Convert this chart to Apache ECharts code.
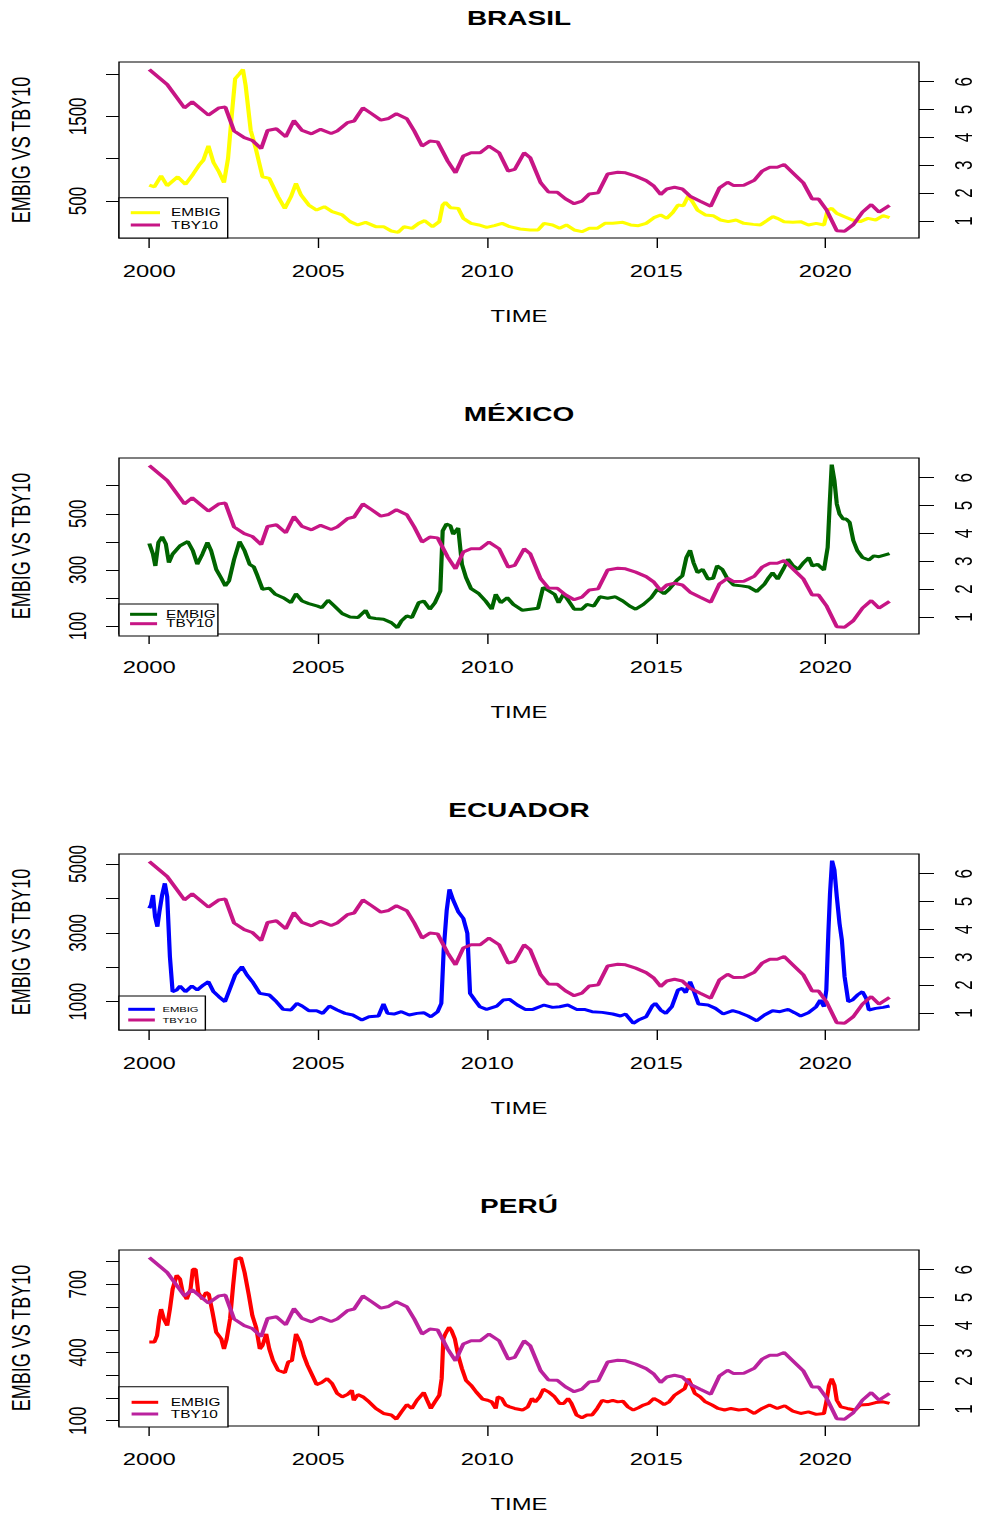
<!DOCTYPE html>
<html>
<head>
<meta charset="utf-8">
<script src="https://cdn.jsdelivr.net/npm/echarts@6/dist/echarts.min.js"></script>
<style>
  html, body { margin: 0; padding: 0; background: #fff; overflow: hidden; }
  #chart { transform-origin: 0 0; }
</style>
</head>
<body>
<div id="chart"></div>
<script>
// ---- data: [decimal year, value] ----
const yearTicks = [2000, 2005, 2010, 2015, 2020];
const tbyTicks = [1, 2, 3, 4, 5, 6];

// US 10-year Treasury yield (%), shared by every panel
const tby10 = [[2000.00,6.44],[2000.53,5.90],[2001.04,5.06],[2001.27,5.28],[2001.75,4.80],[2002.06,5.06],[2002.25,5.09],[2002.51,4.23],[2002.81,3.99],[2003.05,3.89],[2003.31,3.60],[2003.50,4.25],[2003.76,4.31],[2004.04,4.02],[2004.28,4.61],[2004.52,4.25],[2004.80,4.13],[2005.07,4.29],[2005.38,4.14],[2005.56,4.23],[2005.86,4.53],[2006.06,4.59],[2006.32,5.06],[2006.58,4.85],[2006.85,4.62],[2007.08,4.68],[2007.31,4.85],[2007.62,4.67],[2007.84,4.23],[2008.07,3.69],[2008.30,3.87],[2008.53,3.84],[2008.83,3.15],[2009.06,2.73],[2009.29,3.33],[2009.52,3.45],[2009.79,3.45],[2010.05,3.69],[2010.35,3.45],[2010.62,2.79],[2010.81,2.85],[2011.09,3.45],[2011.27,3.27],[2011.58,2.37],[2011.81,2.04],[2012.07,2.03],[2012.31,1.80],[2012.57,1.62],[2012.80,1.71],[2013.02,1.97],[2013.28,2.01],[2013.56,2.69],[2013.86,2.75],[2014.09,2.73],[2014.39,2.61],[2014.70,2.45],[2014.93,2.25],[2015.13,1.95],[2015.31,2.15],[2015.54,2.21],[2015.77,2.15],[2016.00,1.89],[2016.30,1.71],[2016.61,1.53],[2016.87,2.19],[2017.11,2.39],[2017.29,2.27],[2017.59,2.28],[2017.90,2.46],[2018.13,2.79],[2018.36,2.93],[2018.58,2.93],[2018.78,3.03],[2019.04,2.73],[2019.35,2.37],[2019.61,1.79],[2019.80,1.79],[2020.03,1.41],[2020.34,0.65],[2020.57,0.63],[2020.83,0.87],[2021.10,1.32],[2021.36,1.59],[2021.59,1.32],[2021.90,1.56]];

// EMBIG spreads (bp)
const brasilEmbig = [[2000.00,688],[2000.15,668],[2000.35,798],[2000.53,680],[2000.84,786],[2001.07,696],[2001.29,814],[2001.49,932],[2001.60,983],[2001.75,1152],[2001.90,955],[2002.06,845],[2002.21,719],[2002.33,1002],[2002.44,1513],[2002.54,1945],[2002.67,2004],[2002.77,2055],[2002.85,1866],[2003.00,1336],[2003.15,1120],[2003.35,786],[2003.55,767],[2003.81,550],[2004.01,413],[2004.19,550],[2004.34,708],[2004.49,570],[2004.72,452],[2004.95,393],[2005.18,433],[2005.41,374],[2005.71,335],[2005.94,256],[2006.17,217],[2006.40,248],[2006.70,197],[2006.93,197],[2007.16,146],[2007.36,130],[2007.54,197],[2007.77,177],[2007.97,236],[2008.15,268],[2008.38,197],[2008.58,256],[2008.68,452],[2008.76,484],[2008.91,421],[2009.14,413],[2009.29,295],[2009.52,236],[2009.75,217],[2009.98,189],[2010.21,209],[2010.44,236],[2010.66,197],[2010.97,170],[2011.27,158],[2011.50,158],[2011.68,236],[2011.93,217],[2012.14,177],[2012.34,217],[2012.57,158],[2012.80,138],[2013.02,177],[2013.25,177],[2013.48,236],[2013.71,236],[2014.01,248],[2014.24,217],[2014.47,209],[2014.70,236],[2014.93,303],[2015.13,335],[2015.31,295],[2015.49,366],[2015.64,452],[2015.80,444],[2015.95,562],[2016.07,491],[2016.22,393],[2016.45,335],[2016.68,327],[2016.90,276],[2017.13,256],[2017.36,276],[2017.59,236],[2017.87,224],[2018.08,217],[2018.30,276],[2018.45,315],[2018.58,295],[2018.78,256],[2019.04,248],[2019.27,256],[2019.50,217],[2019.73,236],[2019.96,217],[2020.07,393],[2020.19,413],[2020.34,354],[2020.57,315],[2020.80,276],[2021.03,256],[2021.26,295],[2021.49,276],[2021.71,327],[2021.90,303]];

const mexicoEmbig = [[2000.00,394],[2000.11,356],[2000.18,314],[2000.27,398],[2000.38,418],[2000.49,392],[2000.58,326],[2000.69,356],[2000.91,386],[2001.14,401],[2001.29,368],[2001.42,320],[2001.57,356],[2001.72,398],[2001.83,368],[2001.98,302],[2002.13,270],[2002.25,243],[2002.36,261],[2002.51,338],[2002.67,401],[2002.82,368],[2002.97,320],[2003.09,311],[2003.20,279],[2003.35,231],[2003.55,235],[2003.73,213],[2003.96,201],[2004.19,183],[2004.34,215],[2004.52,189],[2004.72,180],[2004.98,171],[2005.10,165],[2005.29,192],[2005.48,171],[2005.71,144],[2005.94,132],[2006.17,130],[2006.40,156],[2006.51,130],[2006.70,127],[2006.93,124],[2007.16,112],[2007.34,94],[2007.46,118],[2007.62,136],[2007.77,130],[2007.97,183],[2008.12,189],[2008.30,160],[2008.45,183],[2008.61,225],[2008.68,439],[2008.79,463],[2008.91,457],[2008.99,427],[2009.14,449],[2009.25,320],[2009.37,273],[2009.52,233],[2009.75,215],[2009.95,189],[2010.13,160],[2010.25,213],[2010.40,183],[2010.59,201],[2010.77,177],[2011.04,156],[2011.27,160],[2011.50,163],[2011.65,237],[2011.80,227],[2011.99,213],[2012.11,183],[2012.26,215],[2012.41,189],[2012.57,160],[2012.80,160],[2012.95,177],[2013.15,171],[2013.33,204],[2013.56,199],[2013.79,204],[2014.01,189],[2014.21,171],[2014.39,160],[2014.62,177],[2014.85,201],[2015.03,231],[2015.23,215],[2015.38,231],[2015.61,263],[2015.77,279],[2015.89,344],[2016.00,370],[2016.10,326],[2016.22,290],[2016.37,302],[2016.53,267],[2016.68,270],[2016.80,314],[2016.95,302],[2017.11,267],[2017.29,246],[2017.52,243],[2017.74,239],[2017.97,223],[2018.20,249],[2018.33,273],[2018.44,290],[2018.59,267],[2018.78,308],[2018.90,338],[2019.05,314],[2019.20,302],[2019.36,326],[2019.51,344],[2019.62,314],[2019.77,320],[2019.96,299],[2020.07,380],[2020.13,535],[2020.19,675],[2020.27,618],[2020.34,535],[2020.42,499],[2020.53,481],[2020.62,481],[2020.72,469],[2020.83,404],[2020.95,368],[2021.10,344],[2021.29,335],[2021.44,350],[2021.59,347],[2021.90,358]];

const ecuadorEmbig = [[2000.00,3712],[2000.05,3809],[2000.11,4099],[2000.17,3470],[2000.24,3179],[2000.30,3615],[2000.38,4099],[2000.46,4438],[2000.53,4051],[2000.61,2308],[2000.69,1291],[2000.81,1339],[2000.91,1455],[2001.07,1291],[2001.26,1455],[2001.42,1339],[2001.60,1484],[2001.75,1581],[2001.90,1291],[2002.06,1145],[2002.24,1000],[2002.39,1387],[2002.54,1775],[2002.74,2017],[2002.89,1775],[2003.05,1581],[2003.27,1242],[2003.55,1194],[2003.76,1000],[2003.96,777],[2004.19,758],[2004.37,952],[2004.52,874],[2004.72,739],[2004.95,739],[2005.13,661],[2005.33,874],[2005.56,758],[2005.79,661],[2006.02,613],[2006.29,467],[2006.50,564],[2006.78,584],[2006.93,932],[2007.05,661],[2007.24,642],[2007.46,710],[2007.69,613],[2007.92,661],[2008.12,681],[2008.33,564],[2008.53,710],[2008.64,952],[2008.71,2501],[2008.80,3663],[2008.88,4264],[2008.99,3954],[2009.14,3615],[2009.29,3421],[2009.41,2986],[2009.49,1242],[2009.63,1048],[2009.78,855],[2009.98,777],[2010.28,874],[2010.47,1048],[2010.66,1068],[2010.89,903],[2011.12,777],[2011.35,777],[2011.68,903],[2011.93,835],[2012.14,855],[2012.38,903],[2012.64,777],[2012.87,777],[2013.10,710],[2013.40,690],[2013.71,642],[2013.94,584],[2014.09,642],[2014.32,371],[2014.47,467],[2014.70,564],[2014.88,874],[2014.97,952],[2015.13,758],[2015.28,661],[2015.46,855],[2015.64,1339],[2015.77,1387],[2015.87,1262],[2016.00,1581],[2016.10,1339],[2016.25,932],[2016.53,903],[2016.75,806],[2016.98,642],[2017.26,739],[2017.47,681],[2017.71,584],[2017.97,448],[2018.20,613],[2018.44,739],[2018.66,710],[2018.90,777],[2019.09,681],[2019.27,584],[2019.50,681],[2019.73,855],[2019.85,1048],[2019.96,855],[2020.03,1339],[2020.09,2986],[2020.14,4148],[2020.20,5097],[2020.27,4826],[2020.34,4051],[2020.42,3276],[2020.49,2792],[2020.57,1727],[2020.68,1000],[2020.80,1048],[2020.95,1194],[2021.10,1291],[2021.21,1097],[2021.29,758],[2021.49,806],[2021.71,835],[2021.90,874]];

const peruEmbig = [[2000.00,446],[2000.15,446],[2000.23,475],[2000.30,555],[2000.35,591],[2000.43,548],[2000.53,519],[2000.61,591],[2000.69,679],[2000.81,740],[2000.91,723],[2000.99,664],[2001.11,635],[2001.22,679],[2001.29,766],[2001.37,766],[2001.45,664],[2001.57,635],[2001.68,664],[2001.76,657],[2001.87,577],[2001.98,489],[2002.13,460],[2002.21,416],[2002.29,460],[2002.39,548],[2002.48,694],[2002.56,810],[2002.71,817],[2002.82,752],[2002.94,657],[2003.05,562],[2003.16,511],[2003.27,416],[2003.35,431],[2003.46,482],[2003.55,416],[2003.66,365],[2003.81,322],[2004.01,311],[2004.11,358],[2004.22,365],[2004.34,482],[2004.46,446],[2004.57,387],[2004.68,344],[2004.80,307],[2004.95,259],[2005.10,268],[2005.26,285],[2005.41,263],[2005.56,220],[2005.71,205],[2005.86,215],[2005.99,234],[2006.05,190],[2006.17,215],[2006.32,205],[2006.50,183],[2006.70,154],[2006.93,132],[2007.16,125],[2007.31,107],[2007.46,139],[2007.62,171],[2007.77,154],[2007.92,190],[2008.12,224],[2008.22,190],[2008.33,154],[2008.45,183],[2008.58,212],[2008.65,285],[2008.70,460],[2008.76,482],[2008.87,511],[2008.94,497],[2009.04,460],[2009.14,387],[2009.25,329],[2009.37,278],[2009.52,256],[2009.67,227],[2009.86,195],[2010.01,190],[2010.13,183],[2010.25,154],[2010.31,205],[2010.43,198],[2010.54,169],[2010.66,161],[2010.81,154],[2011.04,147],[2011.20,161],[2011.32,198],[2011.42,183],[2011.55,205],[2011.66,239],[2011.81,227],[2011.99,205],[2012.14,176],[2012.26,176],[2012.39,198],[2012.49,176],[2012.64,125],[2012.80,113],[2012.95,125],[2013.10,125],[2013.25,154],[2013.40,190],[2013.56,183],[2013.71,190],[2013.86,183],[2014.01,186],[2014.16,161],[2014.32,147],[2014.47,157],[2014.62,169],[2014.77,176],[2014.93,198],[2015.08,186],[2015.23,171],[2015.38,183],[2015.54,212],[2015.69,227],[2015.84,241],[2015.95,285],[2016.04,256],[2016.14,220],[2016.30,205],[2016.45,183],[2016.65,169],[2016.83,154],[2017.02,147],[2017.21,154],[2017.44,147],[2017.67,151],[2017.90,132],[2018.13,154],[2018.35,169],[2018.58,154],[2018.80,166],[2019.04,142],[2019.27,132],[2019.50,139],[2019.73,128],[2019.96,132],[2020.03,183],[2020.11,256],[2020.19,285],[2020.27,256],[2020.34,190],[2020.46,161],[2020.65,154],[2020.88,147],[2021.03,169],[2021.26,171],[2021.49,180],[2021.71,183],[2021.90,176]];

// left-axis ticks and the labels printed on them
const brasilTicks = [500, 1000, 1500, 2000],        brasilLabels = [500, 1500];
const mexicoTicks = [100, 200, 300, 400, 500, 600], mexicoLabels = [100, 300, 500];
const ecuadorTicks = [1000, 2000, 3000, 4000, 5000], ecuadorLabels = [1000, 3000, 5000];
const peruTicks = [100, 200, 300, 400, 500, 600, 700, 800], peruLabels = [100, 400, 700];

// ---- layout ----
// The figure is laid out narrower and stretched horizontally by SX.
const SX = 1.4;
const W = 981 / SX, H = 1520;
const hx = v => v / SX;               // horizontal page pixel -> chart pixel
const FONT = '"Liberation Sans", Arial, Helvetica, sans-serif';
const PLOT_LEFT = 119, PLOT_RIGHT = 919, PLOT_H = 176;

const panels = [
  { title: 'BRASIL',  top: 62,   color: '#FFFF00', tby: '#C71585', data: brasilEmbig,  ymin: 63,   ymax: 2142, ticks: brasilTicks,  labels: brasilLabels,
    legend: { top: 197.7, pad: [9.5, 5, 7.5, 8.4], iw: 20.9, font: 11, gap: 1.3, tpad: 2.9 } },
  { title: 'MÉXICO',  top: 458,  color: '#006400', tby: '#C71585', data: mexicoEmbig,  ymin: 71.5, ymax: 698.7, ticks: mexicoTicks, labels: mexicoLabels,
    legend: { top: 604,   pad: [4.8, 1.6, 6.8, 7.9], iw: 19.3, font: 11, gap: -1.6, tpad: 1.4 } },
  { title: 'ECUADOR', top: 854,  color: '#0000FF', tby: '#C71585', data: ecuadorEmbig, ymin: 178,  ymax: 5290, ticks: ecuadorTicks, labels: ecuadorLabels,
    legend: { top: 996,   pad: [9.3, 4.8, 6, 6.6], iw: 19, font: 8, gap: 2.7, tpad: 0.5 } },
  { title: 'PERÚ',    top: 1250, color: '#FF0000', tby: '#BA229E', data: peruEmbig,    ymin: 76.8, ymax: 851,  ticks: peruTicks,    labels: peruLabels,
    legend: { top: 1386.7, pad: [10.1, 5.4, 7.5, 9], iw: 19, font: 11, gap: 0.7, tpad: 4 } }
];

const plain = v => String(v);
const option = {
  animation: false,
  backgroundColor: '#fff',
  title: [], grid: [], xAxis: [], yAxis: [], legend: [], series: []
};

panels.forEach((p, i) => {
  option.title.push({
    text: p.title, left: hx((PLOT_LEFT + PLOT_RIGHT) / 2), top: p.top - 54, textAlign: 'center', padding: 0,
    textStyle: { fontFamily: FONT, fontWeight: 'bold', fontSize: 20, color: '#000' }
  });
  option.grid.push({
    left: hx(PLOT_LEFT), top: p.top, width: hx(PLOT_RIGHT - PLOT_LEFT), height: PLOT_H,
    outerBoundsMode: 'none', containLabel: false,
    show: true, borderColor: '#000', borderWidth: 1, backgroundColor: 'transparent'
  });
  option.xAxis.push({
    type: 'value', gridIndex: i, min: 1999.104, max: 2022.772,
    axisLine: { show: false }, splitLine: { show: false },
    axisTick: { show: true, customValues: yearTicks, length: 10, lineStyle: { color: '#000' } },
    axisLabel: { customValues: yearTicks, formatter: plain, margin: 24, fontFamily: FONT, fontSize: 17, color: '#000' },
    name: 'TIME', nameLocation: 'middle', nameGap: 69,
    nameTextStyle: { fontFamily: FONT, fontSize: 17, color: '#000' }
  });
  option.yAxis.push({
    type: 'value', gridIndex: i, position: 'left', min: p.ymin, max: p.ymax,
    axisLine: { show: false }, splitLine: { show: false },
    axisTick: { show: true, customValues: p.ticks, length: hx(13), lineStyle: { color: '#000' } },
    axisLabel: { customValues: p.labels, formatter: plain, rotate: 90, margin: 21, fontFamily: FONT, fontSize: 17, color: '#000' },
    name: 'EMBIG VS TBY10', nameLocation: 'middle', nameRotate: 90, nameGap: 61,
    nameTextStyle: { fontFamily: FONT, fontSize: 18, color: '#000' }
  });
  option.yAxis.push({
    type: 'value', gridIndex: i, position: 'right', min: 0.39, max: 6.707,
    axisLine: { show: false }, splitLine: { show: false },
    axisTick: { show: true, customValues: tbyTicks, length: hx(15), lineStyle: { color: '#000' } },
    axisLabel: { customValues: tbyTicks, formatter: plain, rotate: 90, margin: 23, fontFamily: FONT, fontSize: 17, color: '#000' }
  });
  const L = p.legend;
  option.legend.push({
    left: hx(PLOT_LEFT), top: L.top, orient: 'vertical', selectedMode: false,
    backgroundColor: '#fff', borderColor: '#000', borderWidth: 1, borderRadius: 0,
    padding: L.pad, itemGap: L.gap, itemWidth: L.iw, itemHeight: 3, icon: 'rect',
    textStyle: { fontFamily: FONT, fontSize: L.font, color: '#000', padding: [0, 0, 0, L.tpad] },
    data: [
      { name: 'EMBIG', itemStyle: { color: p.color } },
      { name: 'TBY10', itemStyle: { color: p.tby } }
    ]
  });
  option.series.push({
    name: 'EMBIG', type: 'line', xAxisIndex: i, yAxisIndex: 2 * i, data: p.data,
    showSymbol: false, symbol: 'none', lineStyle: { width: 3, color: p.color }, itemStyle: { color: p.color }, z: 2
  });
  option.series.push({
    name: 'TBY10', type: 'line', xAxisIndex: i, yAxisIndex: 2 * i + 1, data: tby10,
    showSymbol: false, symbol: 'none', lineStyle: { width: 3, color: p.tby }, itemStyle: { color: p.tby }, z: 3
  });
});

const dom = document.getElementById('chart');
dom.style.width = W + 'px';
dom.style.height = H + 'px';
dom.style.transform = 'scaleX(' + SX + ')';
const chart = echarts.init(dom, null, { renderer: 'svg', width: W, height: H });
chart.setOption(option);
</script>
</body>
</html>
